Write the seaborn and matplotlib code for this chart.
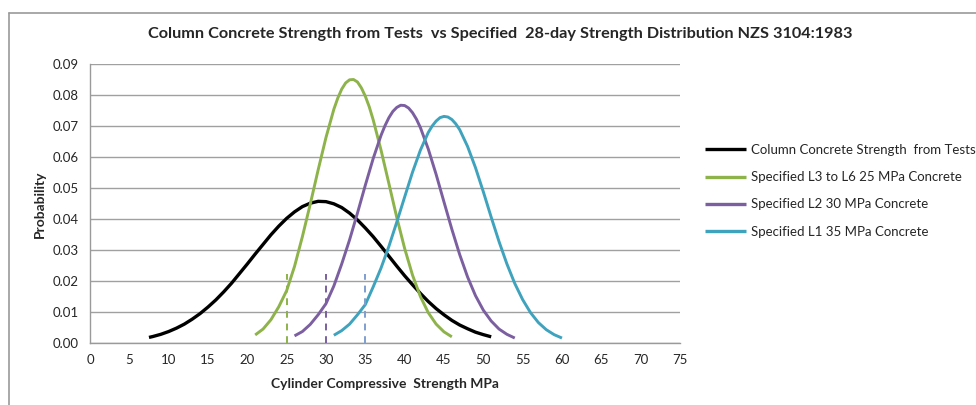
import matplotlib
matplotlib.use("Agg")
import matplotlib.pyplot as plt
from matplotlib.lines import Line2D
import seaborn as sns
import pandas as pd

# ---------------- data ----------------
tests_x = [7.5, 8, 9, 10, 11, 12, 13, 14, 15, 16, 17, 18, 19, 20, 21, 22, 23, 24, 25, 26, 27, 28, 29,
           30, 31, 32, 33, 34, 35, 36, 37, 38, 39, 40, 41, 42, 43, 44, 45, 46, 47, 48, 49, 50, 51]
tests_y = [0.0019, 0.0022, 0.0029, 0.0038, 0.0049, 0.0062, 0.0078, 0.0096, 0.0117, 0.0140, 0.0166,
           0.0194, 0.0225, 0.0256, 0.0288, 0.0319, 0.0350, 0.0378, 0.0403, 0.0424, 0.0441, 0.0452,
           0.0458, 0.0457, 0.0450, 0.0438, 0.0420, 0.0398, 0.0372, 0.0344, 0.0313, 0.0281, 0.0249,
           0.0218, 0.0189, 0.0161, 0.0135, 0.0112, 0.0092, 0.0074, 0.0059, 0.0047, 0.0036, 0.0028,
           0.0021]

l36_x = [21, 22, 23, 24, 25, 26, 27, 28, 29, 30, 31, 31.5, 32, 32.5, 33, 33.5, 34, 34.5, 35, 35.5,
         36, 37, 38, 39, 40, 41, 42, 43, 44, 45, 46]
l36_y = [0.0027, 0.0046, 0.0076, 0.0118, 0.0170, 0.0248, 0.0344, 0.0449, 0.0559, 0.0664, 0.0755,
         0.0791, 0.0820, 0.0840, 0.0850, 0.0851, 0.0843, 0.0824, 0.0797, 0.0763, 0.0721, 0.0623,
         0.0515, 0.0406, 0.0306, 0.0220, 0.0151, 0.0099, 0.0062, 0.0037, 0.0021]

l2_x = [26, 27, 28, 29, 30, 31, 32, 33, 34, 35, 36, 37, 37.5, 38, 38.5, 39, 39.5, 40, 40.5, 41, 41.5,
        42, 43, 44, 45, 46, 47, 48, 49, 50, 51, 52, 53, 54]
l2_y = [0.0024, 0.0038, 0.0061, 0.0092, 0.0128, 0.0185, 0.0256, 0.0334, 0.0420, 0.0510, 0.0596,
        0.0671, 0.0702, 0.0728, 0.0748, 0.0761, 0.0768, 0.0767, 0.0759, 0.0744, 0.0723, 0.0696,
        0.0627, 0.0545, 0.0456, 0.0368, 0.0286, 0.0214, 0.0154, 0.0107, 0.0072, 0.0046, 0.0029,
        0.0017]

l1_x = [31, 32, 33, 34, 35, 36, 37, 38, 39, 40, 41, 42, 43, 43.5, 44, 44.5, 45, 45.5, 46, 46.5,
        47, 48, 49, 50, 51, 52, 53, 54, 55, 56, 57, 58, 59, 60]
l1_y = [0.0026, 0.0041, 0.0062, 0.0092, 0.0125, 0.0182, 0.0243, 0.0313, 0.0391, 0.0472, 0.0552,
        0.0623, 0.0680, 0.0701, 0.0717, 0.0728, 0.0732, 0.0730, 0.0722, 0.0708, 0.0689, 0.0635,
        0.0567, 0.0489, 0.0407, 0.0328, 0.0256, 0.0193, 0.0141, 0.0099, 0.0067, 0.0044, 0.0028,
        0.0017]

series_labels = ["Column Concrete Strength  from Tests",
                 "Specified L3 to L6 25 MPa Concrete",
                 "Specified L2 30 MPa Concrete",
                 "Specified L1 35 MPa Concrete"]

spec_strength_x = [25, 30, 35]
spec_marker_top = [0.0225, 0.0225, 0.0225]

x_ticks = list(range(0, 80, 5))
y_ticks = [0.00, 0.01, 0.02, 0.03, 0.04, 0.05, 0.06, 0.07, 0.08, 0.09]

title = "Column Concrete Strength from Tests  vs Specified  28-day Strength Distribution NZS 3104:1983"
x_label = "Cylinder Compressive  Strength MPa"
y_label = "Probability"

# ---------------- styling ----------------
sns.set_theme(style="white")
plt.rcParams['font.family'] = ['Lato', 'DejaVu Sans']

colors = ["#000000", "#8DB34A", "#7B5FA0", "#3FA3BD"]
dash_colors = ["#8DB34A", "#7B5FA0", "#7F9FD0"]

fig = plt.figure(figsize=(9.76, 4.05), dpi=100)
ax = fig.add_axes([0.0922, 0.1523, 0.6045, 0.6889])

series = [(tests_x, tests_y), (l36_x, l36_y), (l2_x, l2_y), (l1_x, l1_y)]
for (xs, ys), lab, col in zip(series, series_labels, colors):
    df = pd.DataFrame({"x": xs, "y": ys})
    lw = 2.4 if col == "#000000" else 2.1
    sns.lineplot(data=df, x="x", y="y", ax=ax, color=col, lw=lw, label=lab,
                 sort=False, solid_capstyle="butt", solid_joinstyle="round")

for xv, top, col in zip(spec_strength_x, spec_marker_top, dash_colors):
    ax.vlines(xv, 0, top, colors=col, linestyles=(0, (3.5, 3)), lw=1.4, zorder=3)

ax.set_xlim(0, 75)
ax.set_ylim(0, 0.09)
ax.set_xticks(x_ticks)
ax.set_xticklabels([str(t) for t in x_ticks], fontsize=9.5)
ax.set_yticks(y_ticks)
ax.set_yticklabels([f"{t:.2f}" for t in y_ticks], fontsize=9.5)
ax.yaxis.grid(True, color="#a0a0a0", lw=1.0)
ax.xaxis.grid(False)
ax.set_axisbelow(True)
for s in ["top", "right"]:
    ax.spines[s].set_visible(False)
for s in ["left", "bottom"]:
    ax.spines[s].set_color("#9a9a9a")
    ax.spines[s].set_linewidth(1.0)
ax.tick_params(axis="x", length=0, pad=8)
ax.tick_params(axis="y", length=0, pad=8)

ax.set_xlabel(x_label, fontsize=10, fontweight="bold", labelpad=8)
ax.set_ylabel(y_label, fontsize=10, fontweight="bold", labelpad=5)
fig.text(500 / 976, 1 - 34 / 405, title, ha="center", va="center", fontsize=11.7, fontweight="bold")

leg = ax.legend(loc="upper left", bbox_to_anchor=(705 / 976, 1 - 144 / 405),
                bbox_transform=fig.transFigure, frameon=False, fontsize=9.5,
                handlelength=3.1, handletextpad=0.4, labelspacing=1.15,
                borderpad=0, borderaxespad=0)
for h in leg.get_lines():
    h.set_linewidth(2.4)

# chart-area border (left and top edges visible)
fig.add_artist(Line2D([9 / 976, 9 / 976], [0, 1 - 13 / 405], transform=fig.transFigure,
                      color="#9a9a9a", lw=1.2))
fig.add_artist(Line2D([9 / 976, 1], [1 - 13 / 405, 1 - 13 / 405], transform=fig.transFigure,
                      color="#9a9a9a", lw=1.2))

fig.savefig("out.png", dpi=100)
